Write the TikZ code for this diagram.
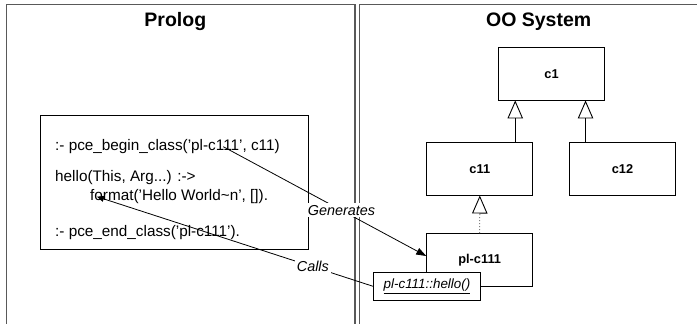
\documentclass[tikz,border=0pt]{standalone}
\usepackage{fontspec}
\setmainfont{Liberation Sans}
\usetikzlibrary{arrows.meta}
\begin{document}
\begin{tikzpicture}[x=1pt,y=-1pt,
  panel/.style={line width=1.5pt, draw=black!65},
  cls/.style={draw, line width=0.9pt, minimum width=106pt, minimum height=52.5pt, inner sep=0pt,
    font=\fontsize{12.8}{15}\selectfont\bfseries},
  ttl/.style={anchor=base, inner sep=0pt, font=\fontsize{19.5}{22}\selectfont\bfseries},
  code/.style={anchor=base west, inner sep=0pt, font=\fontsize{15.3}{18}\selectfont},
  lbl/.style={fill=white, inner sep=2pt, font=\fontsize{14.4}{16}\selectfont\itshape},
  inh/.style={line width=0.9pt, -{Triangle[open, fill=white, length=18pt, width=15.4pt]}},
  conn/.style={line width=0.8pt},
]
\useasboundingbox (0,0) rectangle (697,324);

% panels
\draw[panel] (6.7,324) -- (6.7,4.3) -- (355,4.3) -- (355,324);
\draw[panel] (359.5,324) -- (359.5,4.3) -- (697,4.3);
\node[ttl] (tprolog) at (175.3,26.7) {Prolog};
\node[ttl] (too) at (538.7,26.7) {OO System};

% code box
\node[draw, line width=0.9pt, minimum width=268pt, minimum height=134.3pt, inner sep=0pt] (codebox) at (174.7,182.15) {};
\node[code] (l1) at (55,150) {:- pce\_begin\_class(’pl-c111’, c11)};
\node[code] (l2) at (55,181.7) {hello(This, Arg...) :->};
\node[code] (l3) at (90,200) {format(’Hello World\textasciitilde n’, []).};
\node[code] (l4) at (55,236.7) {:- pce\_end\_class(’pl-c111’).};

% classes
\node[cls] (c1) at (551.5,73.7) {c1};
\node[cls] (c11) at (479.8,168.8) {c11};
\node[cls] (c12) at (622.5,168.8) {c12};
\node[cls] (plc) at (479.7,259.7) {pl-c111};
\node[draw, fill=white, line width=0.9pt, minimum width=107pt, minimum height=28.5pt, inner sep=0pt,
  font=\fontsize{13.4}{15}\selectfont\itshape] (hello) at (427,286.3) {\underline{pl-c111::hello()}};

% inheritance
\draw[inh] ([xshift=-18pt]c11.north east) -- ([xshift=-18pt]c11.north east |- c1.south);
\draw[inh] ([xshift=16.5pt]c12.north west) -- ([xshift=16.5pt]c12.north west |- c1.south);
\draw[line width=1pt, draw=gray, dotted,
  -{Triangle[length=18pt, width=15.4pt, color=black, fill=white, line width=0.9pt]}]
  (plc.north) -- (c11.south);

% generates / calls
\coordinate (gs) at (223.3,146.7);
\coordinate (ce) at (97,196.7);
\draw[conn, -{Triangle[length=10pt, width=7pt]}] (gs) -- node[lbl, pos=0.582] (gen) {Generates} ([yshift=3.7pt]plc.west);
\draw[conn, -{Triangle[length=7pt, width=6pt]}] (hello.west) -- node[lbl, pos=0.218] (calls) {Calls} (ce);
\end{tikzpicture}
\end{document}
